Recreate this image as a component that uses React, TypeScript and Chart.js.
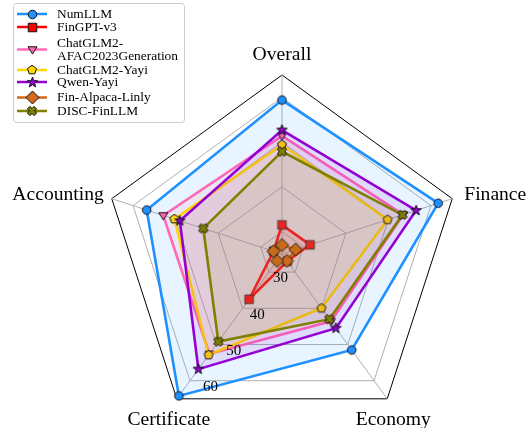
import React, { useEffect, useRef } from "react";
import { Chart, registerables } from "chart.js";

Chart.register(...registerables);

// ---------- data ----------
const CATEGORIES = ["Overall", "Finance", "Economy", "Certificate", "Accounting"];
const NUMLLM = [59.4, 61.7, 51.5, 64.2, 56.8];
const FINGPT_V3 = [31.5, 31.6, 27.0, 37.5, 27.0];
const CHATGLM2_AFAC = [51.4, 53.5, 43.6, 52.6, 52.9];
const CHATGLM2_YAYI = [49.4, 49.8, 40.0, 52.9, 50.3];
const QWEN_YAYI = [52.7, 56.5, 45.5, 56.8, 49.0];
const FIN_ALPACA_LINLY = [27.0, 28.2, 26.9, 26.9, 27.0];
const DISC_FINLLM = [47.9, 53.3, 43.0, 49.2, 43.5];

const SERIES_NAMES = [
  "NumLLM",
  "FinGPT-v3",
  "ChatGLM2-AFAC2023Generation",
  "ChatGLM2-Yayi",
  "Qwen-Yayi",
  "Fin-Alpaca-Linly",
  "DISC-FinLLM",
];
const LEGEND_TEXT = [
  ["NumLLM"],
  ["FinGPT-v3"],
  ["ChatGLM2-", "AFAC2023Generation"],
  ["ChatGLM2-Yayi"],
  ["Qwen-Yayi"],
  ["Fin-Alpaca-Linly"],
  ["DISC-FinLLM"],
];
const SERIES_VALUES = [NUMLLM, FINGPT_V3, CHATGLM2_AFAC, CHATGLM2_YAYI, QWEN_YAYI, FIN_ALPACA_LINLY, DISC_FINLLM];
const TICK_VALUES = [30, 40, 50, 60];
const R_MIN = 25;
const R_MAX = 65;

// ---------- styles ----------
const COLORS = ["#1E90FF", "#FF0000", "#FF69B4", "#FFD700", "#9400D3", "#D2691E", "#808000"];
const MARKERS = ["circle", "square", "triangleDown", "pentagon", "star", "diamond", "x"];
const MARKER_SIZES = [8.5, 8.5, 9, 9.5, 11, 13, 9.5];
const FONT = '"Liberation Serif", "Times New Roman", serif';

// legend layout (row centres)
const LEGEND_ROW_Y = [14, 27, 49.5, 70, 82, 97.5, 111];

// point label placement relative to the axis end
const LABEL_PLACE = [
  { align: "center", dx: 0, dy: -15 },
  { align: "left", dx: 12, dy: 1.5 },
  { align: "center", dx: 6, dy: 26 },
  { align: "center", dx: -8, dy: 26 },
  { align: "right", dx: -8, dy: 1.5 },
];

function hexToRgba(hex: string, a: number) {
  const n = parseInt(hex.slice(1), 16);
  return `rgba(${(n >> 16) & 255},${(n >> 8) & 255},${n & 255},${a})`;
}

function makeMarker(shape: string, color: string, size: number): HTMLCanvasElement {
  const s = Math.ceil(size + 4);
  const c = document.createElement("canvas");
  c.width = s;
  c.height = s;
  const g = c.getContext("2d")!;
  g.translate(s / 2, s / 2);
  const r = size / 2;
  g.beginPath();
  if (shape === "circle") {
    g.arc(0, 0, r, 0, Math.PI * 2);
  } else if (shape === "square") {
    g.rect(-r, -r, 2 * r, 2 * r);
  } else if (shape === "triangleDown") {
    g.moveTo(-r, -r * 0.6);
    g.lineTo(r, -r * 0.6);
    g.lineTo(0, r);
    g.closePath();
  } else if (shape === "pentagon") {
    for (let k = 0; k < 5; k++) {
      const a = -Math.PI / 2 + (k * 2 * Math.PI) / 5;
      const px = r * Math.cos(a), py = r * Math.sin(a);
      k === 0 ? g.moveTo(px, py) : g.lineTo(px, py);
    }
    g.closePath();
  } else if (shape === "star") {
    for (let k = 0; k < 10; k++) {
      const a = -Math.PI / 2 + (k * Math.PI) / 5;
      const rr = k % 2 === 0 ? r : r * 0.4;
      const px = rr * Math.cos(a), py = rr * Math.sin(a);
      k === 0 ? g.moveTo(px, py) : g.lineTo(px, py);
    }
    g.closePath();
  } else if (shape === "diamond") {
    g.moveTo(0, -r);
    g.lineTo(r, 0);
    g.lineTo(0, r);
    g.lineTo(-r, 0);
    g.closePath();
  } else if (shape === "x") {
    const a = r * 0.38;
    const pts = [
      [a, r], [a, a], [r, a], [r, -a], [a, -a], [a, -r],
      [-a, -r], [-a, -a], [-r, -a], [-r, a], [-a, a], [-a, r],
    ];
    const cs = Math.cos(Math.PI / 4), sn = Math.sin(Math.PI / 4);
    pts.forEach(([px, py], k) => {
      const qx = px * cs - py * sn, qy = px * sn + py * cs;
      k === 0 ? g.moveTo(qx, qy) : g.lineTo(qx, qy);
    });
    g.closePath();
  }
  g.fillStyle = color;
  g.fill();
  g.lineWidth = 1;
  g.strokeStyle = "#111";
  g.stroke();
  return c;
}

export default function App() {
  const ref = useRef<HTMLCanvasElement | null>(null);

  useEffect(() => {
    document.body.style.margin = "0";
    const canvas = ref.current;
    if (!canvas) return;
    const markers = MARKERS.map((m, i) => makeMarker(m, COLORS[i], MARKER_SIZES[i]));

    const overlay = {
      id: "overlay",
      afterDraw(chart: any) {
        const ctx = chart.ctx;
        const scale = chart.scales.r;
        ctx.save();
        // point (axis) labels
        ctx.font = `19.6px ${FONT}`;
        ctx.fillStyle = "#000";
        ctx.textBaseline = "alphabetic";
        CATEGORIES.forEach((lab, i) => {
          const p = scale.getPointPosition(i, scale.drawingArea);
          const pl = LABEL_PLACE[i];
          ctx.textAlign = pl.align;
          ctx.fillText(lab, p.x + pl.dx, p.y + pl.dy);
        });
        // radial tick labels
        ctx.font = `15px ${FONT}`;
        ctx.textAlign = "center";
        ctx.textBaseline = "middle";
        TICK_VALUES.forEach((v) => {
          const d = scale.getDistanceFromCenterForValue(v);
          ctx.fillText(String(v), scale.xCenter + 10.2 - 0.5216 * d, scale.yCenter + 6.4 + 0.8085 * d);
        });
        // legend
        const bx = 13.5, by = 3.5, bw = 171, bh = 119, rad = 3;
        ctx.beginPath();
        ctx.moveTo(bx + rad, by);
        ctx.lineTo(bx + bw - rad, by);
        ctx.arcTo(bx + bw, by, bx + bw, by + rad, rad);
        ctx.lineTo(bx + bw, by + bh - rad);
        ctx.arcTo(bx + bw, by + bh, bx + bw - rad, by + bh, rad);
        ctx.lineTo(bx + rad, by + bh);
        ctx.arcTo(bx, by + bh, bx, by + bh - rad, rad);
        ctx.lineTo(bx, by + rad);
        ctx.arcTo(bx, by, bx + rad, by, rad);
        ctx.closePath();
        ctx.fillStyle = "rgba(255,255,255,0.8)";
        ctx.fill();
        ctx.strokeStyle = "#cccccc";
        ctx.lineWidth = 1;
        ctx.stroke();
        ctx.font = `13.4px ${FONT}`;
        ctx.textAlign = "left";
        ctx.textBaseline = "middle";
        SERIES_NAMES.forEach((_, i) => {
          const y = LEGEND_ROW_Y[i];
          ctx.beginPath();
          ctx.moveTo(17, y);
          ctx.lineTo(47, y);
          ctx.strokeStyle = COLORS[i];
          ctx.lineWidth = 2.5;
          ctx.stroke();
          const m = markers[i];
          ctx.drawImage(m, Math.round(32 - m.width / 2), Math.round(y - m.height / 2));
          ctx.fillStyle = "#000";
          const lines = LEGEND_TEXT[i];
          const lh = 13;
          lines.forEach((t, k) => {
            ctx.fillText(t, 57, y + (k - (lines.length - 1) / 2) * lh);
          });
        });
        ctx.restore();
      },
    };

    const chart = new Chart(canvas, {
      type: "radar",
      data: {
        labels: CATEGORIES,
        datasets: SERIES_NAMES.map((name, i) => ({
          label: name,
          data: SERIES_VALUES[i],
          borderColor: COLORS[i],
          backgroundColor: hexToRgba(COLORS[i], 0.1),
          fill: true,
          borderWidth: 2.6,
          pointStyle: markers[i] as any,
          pointRadius: 4,
          pointHoverRadius: 4,
          order: SERIES_NAMES.length - 1 - i,
        })),
      },
      options: {
        responsive: false,
        animation: false,
        devicePixelRatio: 1,
        layout: { padding: { left: 103, right: 66, top: 75, bottom: 7 } },
        plugins: { legend: { display: false }, tooltip: { enabled: false } },
        elements: { line: { tension: 0 } },
        scales: {
          r: {
            min: R_MIN,
            max: R_MAX,
            afterBuildTicks: (s: any) => {
              s.ticks = [R_MIN, ...TICK_VALUES, R_MAX].map((v) => ({ value: v }));
            },
            ticks: { display: false },
            pointLabels: { display: false },
            grid: {
              color: (c: any) => (c.tick && c.tick.value === R_MAX ? "#000000" : "#b0b0b0"),
              lineWidth: 1,
            },
            angleLines: { color: "#b0b0b0", lineWidth: 1 },
          },
        },
      },
      plugins: [overlay],
    } as any);
    return () => chart.destroy();
  }, []);

  return (
    <div style={{ position: "absolute", left: 0, top: 0, width: 527, height: 428, overflow: "hidden", background: "#fff" }}>
      <canvas ref={ref} width={527} height={440} style={{ display: "block" }} />
    </div>
  );
}
